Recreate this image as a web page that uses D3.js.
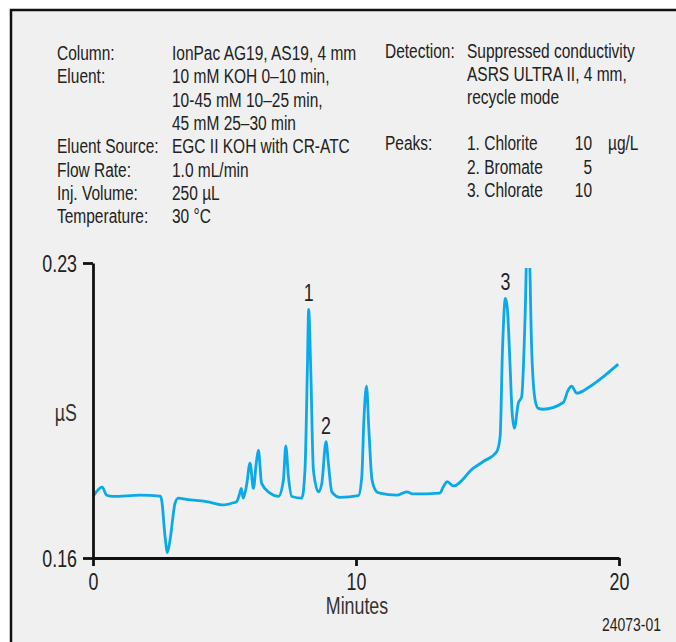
<!DOCTYPE html>
<html>
  <head>
    <meta charset="utf-8">
    <title>Chlorite, Bromate, Chlorate</title>
    <script src="https://d3js.org/d3.v7.min.js"></script>
    <style>
      html, body { margin: 0; padding: 0; background: #fff; }
      text { font-family: "Liberation Sans", Arial, sans-serif; fill: #222; }
    </style>
  </head>
  <body>
    <div id="chart"></div>
    <script>
      // Trace (minutes, µS)
      const timeMin = [0, 0.35, 0.52, 0.76, 1.79, 2.55, 2.61, 2.74, 2.83, 2.93, 3.12, 3.24, 3.56, 4.32, 4.95,
        5.33, 5.46, 5.56, 5.64, 5.71, 5.84, 5.97, 6.10, 6.20, 6.29, 6.41, 6.73, 7.05, 7.24, 7.33, 7.43,
        7.56, 7.94, 8.06, 8.15, 8.20, 8.28, 8.38, 8.57, 8.70, 8.86, 8.95, 9.08, 9.39, 10.09, 10.22, 10.30,
        10.40, 10.49, 10.61, 10.79, 10.91, 11.55, 11.93, 12.18, 13.19, 13.32, 13.47, 13.70, 14.46, 14.84,
        15.35, 15.48, 15.57, 15.68, 15.75, 15.86, 15.93, 16.02, 16.17, 16.30, 16.43, 16.50, 16.58, 16.68,
        16.81, 16.93, 17.12, 17.88, 18.07, 18.20, 18.39, 18.90, 19.40, 19.97];
      const conductance = [0.1746, 0.1768, 0.1749, 0.1746, 0.1749, 0.1747, 0.1738, 0.1651, 0.1613, 0.1643, 0.1730,
        0.1742, 0.1739, 0.1734, 0.1726, 0.1731, 0.1734, 0.1749, 0.1765, 0.1742, 0.1773, 0.1825, 0.1765,
        0.1821, 0.1856, 0.1777, 0.1754, 0.1746, 0.1785, 0.1866, 0.1793, 0.1746, 0.1742, 0.1809, 0.2046,
        0.2190, 0.2046, 0.1809, 0.1757, 0.1777, 0.1876, 0.1825, 0.1757, 0.1744, 0.1748, 0.1793, 0.1927,
        0.2008, 0.1904, 0.1785, 0.1757, 0.1754, 0.1749, 0.1757, 0.1752, 0.1754, 0.1769, 0.1781, 0.1771,
        0.1813, 0.1829, 0.1852, 0.1888, 0.2094, 0.2216, 0.2196, 0.2054, 0.1951, 0.1908, 0.1967, 0.1983,
        0.2173, 0.2330, 0.2330, 0.2094, 0.1975, 0.1955, 0.1953, 0.1969, 0.1999, 0.2008, 0.1991, 0.2007,
        0.2030, 0.2060];

      const xTicks = [0, 10, 20];
      const yTicks = [0.16, 0.23];

      const peakNames = ["1", "2", "3"];
      const peakTimes = [8.20, 8.86, 15.68];

      const leftLabels = ["Column:", "Eluent:", "", "", "Eluent Source:", "Flow Rate:", "Inj. Volume:", "Temperature:"];
      const leftValues = ["IonPac AG19, AS19, 4 mm", "10 mM KOH 0\u201310 min,", "10-45 mM 10\u201325 min,",
        "45 mM 25\u201330 min", "EGC II KOH with CR-ATC", "1.0 mL/min", "250 \u00b5L", "30 \u00b0C"];
      const rightLabels = ["Detection:", "", "", "", "Peaks:", "", ""];
      const rightValues = ["Suppressed conductivity", "ASRS ULTRA II, 4 mm,", "recycle mode", "",
        "1. Chlorite", "2. Bromate", "3. Chlorate"];
      const peakAmounts = ["", "", "", "", "10", "5", "10"];
      const peakUnits = ["", "", "", "", "\u00b5g/L", "", ""];

      const W = 676, H = 642;
      const NARROW = 0.775; // the original face is a condensed grotesque
      const svg = d3.select("#chart").append("svg")
        .attr("width", W).attr("height", H);

      // condensed text helper
      function label(g, px, py, str, size, anchor) {
        return g.append("text")
          .attr("transform", `translate(${px},${py}) scale(${NARROW},1)`)
          .attr("text-anchor", anchor || "start")
          .style("font-size", size + "px")
          .text(str);
      }

      // frame
      svg.append("rect")
        .attr("x", 11).attr("y", 10)
        .attr("width", 720).attr("height", 700)
        .attr("fill", "#f0f0f0")
        .attr("stroke", "#111").attr("stroke-width", 2.5);

      // conditions text block
      const info = svg.append("g");
      leftLabels.forEach((t, i) => {
        const yy = 60 + i * 23.3;
        if (t) label(info, 57, yy, t, 20);
        label(info, 172, yy, leftValues[i], 20);
      });
      rightValues.forEach((t, i) => {
        const yy = 57.5 + i * 23.2;
        if (rightLabels[i]) label(info, 385, yy, rightLabels[i], 20);
        if (t) label(info, 467, yy, t, 20);
        if (peakAmounts[i]) label(info, 592, yy, peakAmounts[i], 20, "end");
        if (peakUnits[i]) label(info, 608, yy, peakUnits[i], 20);
      });

      // scales
      const x = d3.scaleLinear().domain([0, 20]).range([93, 619]);
      const y = d3.scaleLinear().domain([0.16, 0.23]).range([558, 263]);

      const data = timeMin.map((t, i) => ({t, v: conductance[i]}));

      svg.append("clipPath").attr("id", "plotclip")
        .append("rect").attr("x", 90).attr("y", 268).attr("width", 540).attr("height", 300);

      const line = d3.line()
        .x(d => x(d.t))
        .y(d => y(d.v))
        .curve(d3.curveMonotoneX);

      svg.append("path")
        .datum(data)
        .attr("clip-path", "url(#plotclip)")
        .attr("fill", "none")
        .attr("stroke", "#0aaaea")
        .attr("stroke-width", 2.8)
        .attr("stroke-linejoin", "round")
        .attr("d", line);

      // axes
      const yAxis = d3.axisLeft(y).tickValues(yTicks).tickSize(10).tickSizeOuter(0)
        .tickFormat(d3.format(".2f"));
      const xAxis = d3.axisBottom(x).tickValues(xTicks).tickSize(8).tickSizeOuter(0);

      const gy = svg.append("g").attr("transform", "translate(93,0)").call(yAxis);
      const gx = svg.append("g").attr("transform", "translate(0,558)").call(xAxis);

      [gx, gy].forEach(g => {
        g.selectAll("path, line").attr("stroke", "#111").attr("stroke-width", 2.8);
        g.selectAll("text").style("font-size", "23px")
          .style("font-family", "'Liberation Sans', Arial, sans-serif")
          .attr("fill", "#333")
          .attr("transform", `scale(${NARROW},1)`);
      });
      gy.selectAll("text").attr("x", -16 / NARROW).attr("dy", "0.36em");
      gx.selectAll("text").attr("y", 16).attr("dy", "0.71em");

      label(svg, 77, 421, "\u00b5S", 23, "end").style("fill", "#333");
      label(svg, 357, 614, "Minutes", 23, "middle").style("fill", "#333");

      // peak numbers
      peakNames.forEach((n, i) => {
        const k = timeMin.indexOf(peakTimes[i]);
        label(svg, x(peakTimes[i]), y(conductance[k]) - 8, n, 23, "middle");
      });

      label(svg, 661, 631, "24073-01", 18, "end");
    </script>
  </body>
</html>
